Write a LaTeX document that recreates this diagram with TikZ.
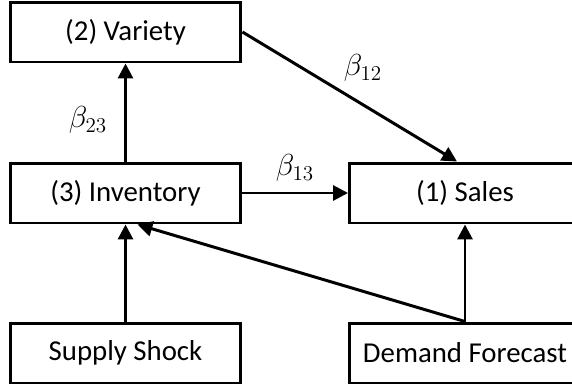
\documentclass[tikz,border=0pt]{standalone}
\usepackage{fontspec}
\setmainfont{Carlito}
\usetikzlibrary{arrows.meta}

\begin{document}
\begin{tikzpicture}[x=0.02cm, y=-0.02cm,
          line width=1.7pt,
          every node/.style={font=\fontsize{16.4}{19}\selectfont},
          box/.style={draw, rectangle, minimum width=4.62cm, minimum height=1.2cm, inner sep=0pt},
          effect/.style={-{Triangle[length=8.5pt, width=8.5pt]}},
          coef/.style={font=\fontsize{18.5}{22}\selectfont},
        ]
          \useasboundingbox (0,0) rectangle (572,389);
          \clip (0,0) rectangle (572,389);
          \node[box] (variety)   at (125.5, 32)  {(2) Variety};
          \node[box] (inventory) at (125.5, 193) {(3) Inventory};
          \node[box] (supply)    at (125.5, 353) {Supply Shock};
          \node[box] (sales)     at (465,   193) {(1) Sales};
          \node[box] (demand)    at (465,   353) {Demand Forecast};
          \draw[effect] (inventory.north) -- (variety.south);
          \draw[effect] (variety.east) -- ([xshift=-0.16cm]sales.north);
          \draw[effect] (inventory.east) -- (sales.west);
          \draw[effect] (supply.north) -- (inventory.south);
          \draw[effect] (demand.north) -- (sales.south);
          \draw[effect] (demand.north) -- ([xshift=0.24cm]inventory.south);
          \node[coef] (b23) at (88, 120) {$\beta_{23}$};
          \node[coef] (b12) at (363, 68) {$\beta_{12}$};
          \node[coef] (b13) at (295, 168) {$\beta_{13}$};
        \end{tikzpicture}
\end{document}
